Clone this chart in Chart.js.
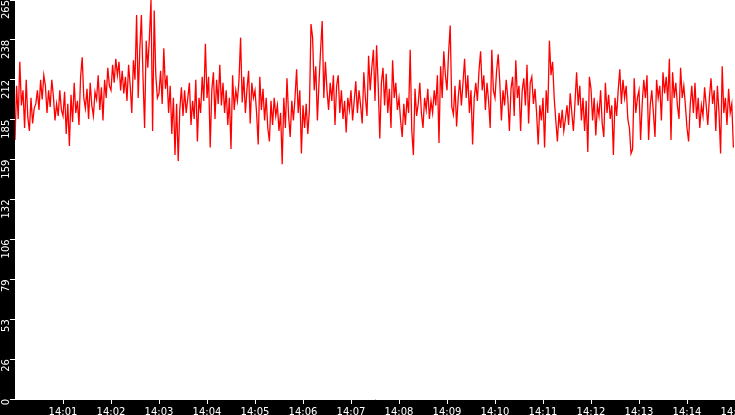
<!DOCTYPE html>
<html>
<head>
<meta charset="utf-8">
<script src="https://cdn.jsdelivr.net/npm/chart.js@4.4.1/dist/chart.umd.min.js"></script>
<style>
  html, body { margin: 0; padding: 0; background: #000; overflow: hidden; }
  #wrap { width: 735px; height: 415px; }
  canvas { display: block; }
</style>
</head>
<body>
<div id="wrap"><canvas id="chart-rate"></canvas></div>
<script>
(function () {
    'use strict';

    /* --- Data: one sample every 2 s, 14:00 - 14:15 --- */
    var stepSeconds = 2;
    var minuteLabels = ['14:00', '14:01', '14:02', '14:03', '14:04', '14:05', '14:06', '14:07',
                        '14:08', '14:09', '14:10', '14:11', '14:12', '14:13', '14:14', '14:15'];
    var yMax = 265;
    var yStep = 26.5;

    var rate = [
        172, 208, 186, 224, 195, 205, 180, 212, 187, 178, 200, 183, 193, 196, 205, 192, 212, 199, 215, 208, 190, 205, 194, 212, 201, 185, 196, 188, 205, 192,
        188, 204, 176, 196, 168, 202, 184, 210, 190, 198, 182, 214, 227, 200, 193, 206, 186, 210, 195, 188, 204, 199, 215, 192, 207, 185, 212, 200, 220, 208,
        205, 222, 210, 226, 215, 224, 205, 218, 203, 214, 198, 222, 208, 190, 225, 212, 255, 200, 232, 255, 214, 180, 238, 220, 240, 265, 178, 258, 215, 200,
        203, 218, 196, 233, 206, 215, 190, 208, 176, 200, 162, 196, 158, 192, 207, 188, 205, 190, 200, 210, 182, 198, 186, 212, 171, 200, 190, 214, 198, 236,
        200, 214, 167, 205, 217, 186, 212, 196, 222, 195, 210, 190, 205, 182, 200, 166, 215, 192, 205, 198, 212, 240, 197, 214, 190, 206, 218, 183, 210, 200,
        205, 190, 169, 214, 192, 206, 185, 200, 180, 171, 198, 182, 200, 188, 195, 178, 190, 156, 200, 180, 213, 188, 174, 198, 185, 200, 219, 190, 205, 163,
        195, 180, 196, 176, 192, 249, 240, 205, 221, 185, 210, 232, 251, 200, 224, 205, 192, 210, 198, 215, 182, 208, 215, 190, 205, 186, 198, 177, 200, 192,
        205, 185, 198, 211, 190, 205, 195, 183, 217, 200, 188, 228, 205, 220, 232, 198, 235, 208, 173, 210, 220, 195, 216, 190, 206, 180, 225, 200, 210, 192,
        200, 185, 174, 196, 182, 200, 190, 232, 178, 162, 206, 188, 196, 210, 190, 180, 200, 192, 206, 186, 198, 190, 205, 195, 215, 170, 221, 200, 231, 215,
        205, 230, 248, 194, 189, 208, 181, 200, 212, 195, 210, 226, 200, 215, 190, 205, 169, 200, 210, 198, 218, 231, 205, 215, 192, 210, 198, 180, 232, 205,
        200, 218, 229, 210, 185, 205, 195, 212, 200, 178, 206, 214, 188, 225, 200, 208, 178, 205, 213, 195, 222, 183, 210, 214, 196, 206, 190, 169, 195, 185,
        200, 167, 205, 190, 238, 215, 224, 200, 185, 171, 190, 180, 192, 178, 186, 195, 182, 203, 190, 178, 197, 217, 195, 208, 185, 200, 178, 198, 164, 214,
        206, 185, 200, 175, 195, 188, 205, 183, 174, 210, 190, 202, 186, 195, 162, 200, 188, 205, 219, 196, 212, 200, 208, 186, 180, 163, 166, 213, 190, 200,
        205, 172, 196, 212, 200, 215, 172, 195, 205, 190, 174, 212, 200, 208, 185, 217, 203, 214, 198, 226, 172, 217, 200, 210, 195, 186, 220, 200, 208, 195,
        180, 171, 195, 208, 190, 210, 186, 200, 180, 195, 188, 207, 195, 182, 200, 213, 196, 205, 178, 208, 190, 163, 221, 190, 200, 182, 206, 190, 196, 167
    ];

    var points = rate.map(function (v, i) {
        return { x: i * stepSeconds, y: v };
    });

    /* --- White plot area on black page --- */
    var plotBackground = {
        id: 'plotBackground',
        beforeDraw: function (chart) {
            var a = chart.chartArea;
            var ctx = chart.ctx;
            ctx.save();
            ctx.fillStyle = '#000';
            ctx.fillRect(0, 0, chart.width, chart.height);
            ctx.fillStyle = '#fff';
            ctx.fillRect(a.left, a.top, a.right - a.left, a.bottom - a.top);
            ctx.restore();
        }
    };

    new Chart(document.getElementById('chart-rate'), {
        type: 'line',
        data: {
            datasets: [{
                data: points,
                borderColor: '#ff0000',
                borderWidth: 1.3,
                pointRadius: 0,
                tension: 0,
                fill: false
            }]
        },
        options: {
            responsive: true,
            maintainAspectRatio: false,
            animation: false,
            devicePixelRatio: 1,
            layout: { padding: 0 },
            plugins: {
                legend: { display: false },
                tooltip: { enabled: false }
            },
            scales: {
                x: {
                    type: 'linear',
                    min: 0,
                    max: 900,
                    afterBuildTicks: function (scale) {
                        scale.ticks = scale.ticks.filter(function (t) { return t.value > 0; });
                    },
                    afterFit: function (scale) {
                        scale.height = 16;
                        scale.paddingLeft = 0;
                        scale.paddingRight = 0;
                    },
                    grid: { drawOnChartArea: false, drawTicks: true, tickLength: 5, color: '#fff' },
                    border: { color: '#fff', width: 1 },
                    ticks: {
                        stepSize: 60,
                        autoSkip: false,
                        maxTicksLimit: 20,
                        maxRotation: 0,
                        padding: 2,
                        color: '#fff',
                        font: { family: "'DejaVu Sans', sans-serif", size: 10 },
                        callback: function (v) { return minuteLabels[Math.round(v / 60)]; }
                    }
                },
                y: {
                    min: 0,
                    max: yMax,
                    afterFit: function (scale) {
                        scale.width = 15;
                        scale.paddingTop = 0;
                        scale.paddingBottom = 0;
                    },
                    grid: { drawOnChartArea: false, drawTicks: true, tickLength: 5, color: '#fff' },
                    border: { color: '#fff', width: 1 },
                    ticks: {
                        stepSize: yStep,
                        minRotation: 90,
                        maxRotation: 90,
                        padding: 4,
                        color: '#fff',
                        font: { family: "'DejaVu Sans', sans-serif", size: 10 },
                        callback: function (v) { return Math.floor(v); }
                    }
                }
            }
        },
        plugins: [plotBackground]
    });
})();
</script>
</body>
</html>
